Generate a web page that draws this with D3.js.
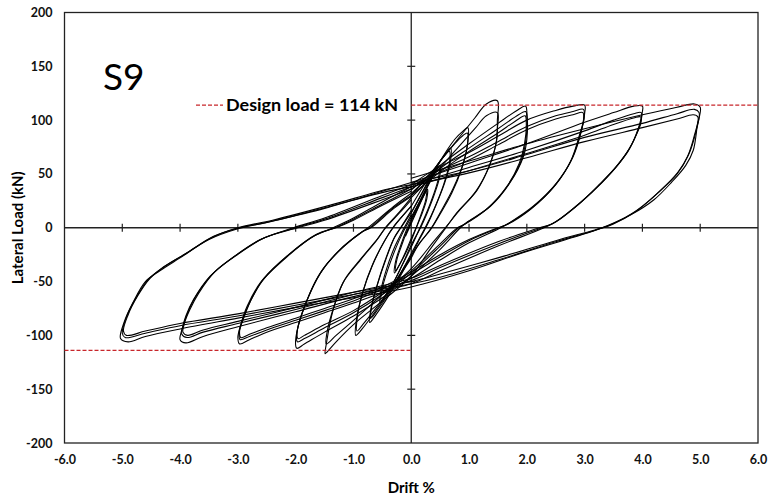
<!DOCTYPE html>
<html>
<head>
<meta charset="utf-8">
<script src="https://cdn.jsdelivr.net/npm/d3@7"></script>
<style>
  body { margin: 0; background: #fff; }
  svg { display: block; }
  .tick text { font-family: Lato, "Open Sans", sans-serif; font-weight: bold; font-size: 12.5px; fill: #111; }
</style>
</head>
<body>
<div id="chart"></div>
<script>
// tick values
const xTicks = [-6, -5, -4, -3, -2, -1, 0, 1, 2, 3, 4, 5, 6]
const yTicks = [-200, -150, -100, -50, 0, 50, 100, 150, 200]
const designLoad = 114

// hysteresis loops, [drift %, load kN]
const loop025a = [[-0.1,-8],[0,4],[0.1,16],[0.2,28],[0.26,34],[0.25,26],[0.18,14],[0.1,2],[0,-12],[-0.1,-24],[-0.2,-34],[-0.27,-40],[-0.25,-30],[-0.17,-17],[-0.08,-4],[0,6]]
const loop025b = [[0,6],[0.12,19],[0.22,30],[0.28,36],[0.27,27],[0.2,15],[0.11,3],[0,-10],[-0.12,-25],[-0.22,-36],[-0.29,-42],[-0.27,-31],[-0.18,-16],[-0.09,-3],[0,8]]
const loop05a = [[0,8],[0.15,24],[0.3,40],[0.42,52],[0.48,56],[0.47,46],[0.38,30],[0.25,12],[0.15,0],[0,-18],[-0.15,-34],[-0.3,-50],[-0.45,-63],[-0.52,-68],[-0.5,-56],[-0.4,-38],[-0.26,-18],[-0.15,-5],[0,10]]
const loop05b = [[0,10],[0.16,26],[0.32,43],[0.44,54],[0.5,58],[0.49,47],[0.4,31],[0.27,13],[0.17,1],[0,-16],[-0.16,-35],[-0.32,-52],[-0.46,-64],[-0.54,-70],[-0.52,-57],[-0.42,-37],[-0.28,-17],[-0.16,-4],[0,12]]
const loop075a = [[0,8],[0.2,30],[0.4,52],[0.58,68],[0.68,74],[0.68,62],[0.58,42],[0.42,20],[0.28,3],[0.15,-10],[0,-26],[-0.2,-46],[-0.4,-64],[-0.6,-80],[-0.72,-88],[-0.7,-76],[-0.6,-55],[-0.45,-30],[-0.3,-10],[-0.18,0],[0,14]]
const loop075b = [[0,14],[0.2,34],[0.4,54],[0.56,66],[0.66,71],[0.66,60],[0.56,40],[0.4,18],[0.26,2],[0.12,-12],[0,-24],[-0.2,-44],[-0.4,-62],[-0.58,-76],[-0.7,-84],[-0.68,-72],[-0.58,-52],[-0.43,-28],[-0.28,-8],[-0.16,2],[0,16]]
const loop1a = [[0,14],[0.25,38],[0.5,62],[0.75,82],[0.9,90],[0.98,93],[0.98,80],[0.9,60],[0.72,36],[0.5,14],[0.35,0],[0.15,-14],[0,-26],[-0.3,-52],[-0.6,-76],[-0.85,-94],[-0.96,-100],[-0.95,-86],[-0.85,-62],[-0.68,-36],[-0.48,-14],[-0.32,0],[-0.1,14],[0,20]]
const loop1b = [[0,20],[0.25,42],[0.5,62],[0.75,78],[0.9,86],[0.97,88],[0.97,76],[0.88,56],[0.7,32],[0.48,11],[0.33,-2],[0.12,-16],[0,-28],[-0.3,-52],[-0.6,-74],[-0.84,-90],[-0.94,-96],[-0.93,-82],[-0.83,-58],[-0.66,-33],[-0.46,-12],[-0.3,1],[0,20]]
const loop15a = [[0,30],[0.4,55],[0.8,82],[1.1,102],[1.3,115],[1.49,118],[1.49,100],[1.48,82],[1.37,60],[1.14,35],[0.79,14],[0.6,0],[0.3,-22],[0,-45],[-0.5,-68],[-1.0,-90],[-1.3,-106],[-1.45,-115],[-1.49,-117],[-1.47,-108],[-1.35,-76],[-1.18,-51],[-0.88,-30],[-0.59,-11],[-0.45,0],[-0.2,15],[0,28]]
const loop15b = [[0,28],[0.4,50],[0.8,74],[1.1,92],[1.3,104],[1.49,107],[1.49,92],[1.46,76],[1.34,56],[1.12,34],[0.8,14],[0.62,2],[0.4,-12],[0,-38],[-0.5,-62],[-1.0,-86],[-1.3,-100],[-1.47,-108],[-1.46,-98],[-1.33,-72],[-1.15,-48],[-0.86,-28],[-0.58,-10],[-0.44,0],[-0.2,14],[0,26]]
const loop2a = [[0,35],[0.5,58],[1.0,78],[1.5,97],[1.8,108],[1.98,113],[2.0,108],[2.0,82],[1.94,66],[1.71,42],[1.37,20],[0.96,5],[0.85,0],[0.5,-20],[0,-45],[-0.5,-65],[-1.0,-82],[-1.5,-97],[-1.85,-108],[-1.98,-112],[-2.0,-104],[-1.8,-67],[-1.57,-42],[-1.23,-20],[-0.88,-5],[-0.75,0],[-0.3,20],[0,32]]
const loop2b = [[0,32],[0.5,55],[1.0,74],[1.5,92],[1.8,103],[1.98,108],[2.0,102],[1.98,80],[1.9,62],[1.68,40],[1.34,19],[0.94,4],[0.82,0],[0.5,-17],[0,-42],[-0.5,-62],[-1.0,-79],[-1.5,-93],[-1.85,-103],[-1.97,-106],[-1.98,-98],[-1.78,-64],[-1.55,-40],[-1.2,-19],[-0.85,-4],[-0.72,0],[-0.3,19],[0,30]]
const loop2c = [[0,30],[0.5,52],[1.0,71],[1.5,88],[1.8,99],[1.97,104],[1.99,98],[1.96,78],[1.87,60],[1.65,38],[1.3,17],[0.92,3],[0.8,0],[0.5,-15],[0,-40],[-0.5,-60],[-1.0,-77],[-1.5,-90],[-1.85,-100],[-1.96,-103],[-1.97,-95],[-1.76,-62],[-1.52,-38],[-1.18,-18],[-0.83,-3],[-0.7,0],[-0.3,18],[0,29]]
const loop3a = [[0,40],[0.4,54],[1.0,70],[1.5,85],[2.0,100],[2.5,109],[2.8,113],[3.0,114],[3.0,106],[2.95,91],[2.8,66],[2.52,42],[2.11,20],[1.71,5],[1.55,0],[1.0,-14],[0.5,-30],[0,-47],[-0.5,-60],[-1.0,-70],[-1.5,-79],[-2.0,-88],[-2.5,-97],[-2.8,-104],[-2.97,-108],[-3.0,-102],[-2.95,-90],[-2.84,-73],[-2.61,-51],[-2.15,-27],[-1.69,-8],[-1.35,0],[-1.0,9],[-0.5,24],[0,38]]
const loop3b = [[0,38],[0.4,51],[1.0,66],[1.5,80],[2.0,94],[2.5,104],[2.8,108],[2.98,110],[2.99,102],[2.93,88],[2.78,64],[2.5,40],[2.08,18],[1.68,4],[1.52,0],[1.0,-12],[0.5,-27],[0,-43],[-0.5,-57],[-1.0,-68],[-1.5,-77],[-2.0,-86],[-2.5,-95],[-2.8,-101],[-2.96,-104],[-2.98,-98],[-2.92,-86],[-2.8,-70],[-2.57,-49],[-2.12,-25],[-1.66,-7],[-1.32,0],[-1.0,8],[-0.5,22],[0,36]]
const loop3c = [[0,36],[0.4,49],[1,63],[1.5,77],[2,91],[2.5,101],[2.8,105],[2.97,107],[2.98,100],[2.91,86],[2.76,62],[2.48,39],[2.06,17],[1.66,3],[1.5,0],[1,-11],[0.5,-25],[0,-41],[-0.5,-55],[-1,-66],[-1.5,-75],[-2,-84],[-2.5,-93],[-2.8,-99],[-2.95,-102],[-2.97,-96],[-2.9,-84],[-2.78,-68],[-2.55,-47],[-2.1,-24],[-1.64,-6],[-1.3,0],[-1,7],[-0.5,21],[0,34]]
const loop4a = [[0,42],[1,60],[2,78],[3,98],[3.5,107],[3.85,113],[4.0,113],[4.0,108],[3.95,96],[3.82,78],[3.6,60],[3.3,42],[2.92,23],[2.52,6],[2.3,0],[1.5,-17],[0.5,-40],[0,-52],[-1,-64],[-2,-78],[-3,-92],[-3.6,-101],[-3.9,-107],[-4.0,-104],[-3.97,-95],[-3.9,-82],[-3.77,-67],[-3.48,-45],[-3.07,-27],[-2.61,-11],[-2.04,0],[-1.5,9],[-0.5,30],[0,40]]
const loop4b = [[0,40],[1,56],[2,72],[3,90],[3.5,100],[3.85,106],[3.98,107],[3.98,100],[3.92,90],[3.78,74],[3.55,57],[3.25,40],[2.88,21],[2.48,5],[2.26,0],[1.5,-15],[0.5,-37],[0,-49],[-1,-62],[-2,-76],[-3,-89],[-3.6,-97],[-3.88,-102],[-3.97,-99],[-3.94,-90],[-3.86,-78],[-3.72,-63],[-3.44,-43],[-3.02,-25],[-2.57,-10],[-2.0,0],[-1.5,8],[-0.5,28],[0,38]]
const loop4c = [[0,38],[1,53],[2,69],[3,86],[3.5,96],[3.85,102],[3.97,103],[3.97,97],[3.9,87],[3.75,71],[3.52,55],[3.22,38],[2.85,20],[2.45,4],[2.22,0],[1.5,-13],[0.5,-35],[0,-47],[-1,-60],[-2,-74],[-3,-87],[-3.6,-95],[-3.87,-100],[-3.95,-97],[-3.92,-88],[-3.83,-76],[-3.68,-61],[-3.4,-41],[-2.98,-24],[-2.53,-9],[-1.96,0],[-1.5,7],[-0.5,26],[0,36]]
const loop5a = [[0,46],[1,62],[2,78],[3,92],[4,105],[4.6,112],[4.9,115],[5.0,112],[4.95,95],[4.88,72],[4.75,58],[4.5,42],[4.2,26],[3.8,12],[3.4,2],[3.1,-4],[2.0,-22],[1.0,-40],[0,-55],[-1,-65],[-2,-74],[-3,-84],[-4,-94],[-4.6,-101],[-4.9,-106],[-5.03,-103],[-4.97,-88],[-4.82,-70],[-4.6,-50],[-4.35,-40],[-4.0,-28],[-3.5,-11],[-3.0,-1],[-2.5,5],[-1.5,18],[-0.5,34],[0,42]]
const loop5b = [[0,42],[1,53],[2,68],[3,84],[4,97],[4.6,106],[4.9,110],[4.98,107],[4.92,88],[4.8,68],[4.62,52],[4.3,34],[3.9,16],[3.5,4],[3.2,-2],[2.5,-13],[1.5,-30],[0.5,-46],[0,-52],[-1,-62],[-2,-72],[-3,-82],[-4,-91],[-4.6,-98],[-4.95,-102],[-5.0,-98],[-4.92,-82],[-4.75,-64],[-4.55,-48],[-4.3,-37],[-3.9,-24],[-3.45,-9],[-3.0,0],[-2.4,7],[-1.4,21],[-0.4,36],[0,40]]
const loop5c = [[0,40],[1,51],[2,65],[3,80],[4,93],[4.6,101],[4.88,105],[4.96,103],[4.9,86],[4.78,66],[4.6,50],[4.28,33],[3.88,15],[3.48,3],[3.18,-2],[2.5,-12],[1.5,-28],[0.5,-43],[0,-50],[-1,-60],[-2,-70],[-3,-80],[-4,-89],[-4.6,-96],[-4.93,-100],[-4.98,-96],[-4.9,-81],[-4.73,-63],[-4.52,-47],[-4.27,-36],[-3.87,-23],[-3.42,-8],[-2.97,0],[-2.4,6],[-1.4,20],[-0.4,34],[0,38]]

const loops = [loop025a, loop025b, loop05a, loop05b, loop075a, loop075b, loop1a, loop1b,
    loop15a, loop15b, loop2a, loop2b, loop2c, loop3a, loop3b, loop3c,
    loop4a, loop4b, loop4c, loop5a, loop5b, loop5c]

const W = 769, H = 501
const margin = { top: 12.5, right: 11, bottom: 58, left: 64.5 }

const svg = d3.select("#chart").append("svg")
    .attr("width", W)
    .attr("height", H)

const x = d3.scaleLinear().domain([-6, 6]).range([margin.left, W - margin.right])
const y = d3.scaleLinear().domain([-200, 200]).range([H - margin.bottom, margin.top])

// frame
svg.append("rect")
    .attr("x", x(-6)).attr("y", y(200))
    .attr("width", x(6) - x(-6)).attr("height", y(-200) - y(200))
    .attr("fill", "none").attr("stroke", "#222").attr("stroke-width", 1.3)

// tick labels at the frame
svg.append("g")
    .attr("transform", "translate(0," + y(-200) + ")")
    .call(d3.axisBottom(x).tickValues(xTicks).tickSize(0).tickPadding(12).tickFormat(d => d.toFixed(1)))
    .call(g => g.select(".domain").remove())

svg.append("g")
    .attr("transform", "translate(" + x(-6) + ",0)")
    .call(d3.axisLeft(y).tickValues(yTicks).tickSize(0).tickPadding(12).tickFormat(d => String(d)))
    .call(g => g.select(".domain").remove())

// zero axes with crossing ticks
svg.append("line")
    .attr("x1", x(-6)).attr("x2", x(6)).attr("y1", y(0)).attr("y2", y(0))
    .attr("stroke", "#222").attr("stroke-width", 1.3)
svg.append("line")
    .attr("x1", x(0)).attr("x2", x(0)).attr("y1", y(-200)).attr("y2", y(200))
    .attr("stroke", "#222").attr("stroke-width", 1.3)

svg.append("g").selectAll("line")
    .data(xTicks.filter(d => d > -6 && d < 6 && d !== 0))
    .enter().append("line")
    .attr("x1", d => x(d)).attr("x2", d => x(d))
    .attr("y1", y(0) - 4).attr("y2", y(0) + 4)
    .attr("stroke", "#222").attr("stroke-width", 1.2)

svg.append("g").selectAll("line")
    .data(yTicks.filter(d => d > -200 && d < 200 && d !== 0))
    .enter().append("line")
    .attr("x1", x(0) - 4).attr("x2", x(0) + 4)
    .attr("y1", d => y(d)).attr("y2", d => y(d))
    .attr("stroke", "#222").attr("stroke-width", 1.2)

// hysteresis curves
const line = d3.line()
    .x(d => x(d[0]))
    .y(d => y(d[1]))
    .curve(d3.curveCatmullRom.alpha(0.5))

svg.append("g").selectAll("path")
    .data(loops)
    .enter().append("path")
    .attr("d", line)
    .attr("fill", "none")
    .attr("stroke", "#000")
    .attr("stroke-width", 1.1)

// design load lines
const red = "#c8262b"
svg.append("line")
    .attr("x1", x(0)).attr("x2", x(6)).attr("y1", y(designLoad)).attr("y2", y(designLoad))
    .attr("stroke", red).attr("stroke-width", 1.3).attr("stroke-dasharray", "4,2")
svg.append("line")
    .attr("x1", x(-6)).attr("x2", x(0)).attr("y1", y(-designLoad)).attr("y2", y(-designLoad))
    .attr("stroke", red).attr("stroke-width", 1.3).attr("stroke-dasharray", "4,2")
svg.append("line")
    .attr("x1", 196).attr("x2", 223).attr("y1", y(designLoad)).attr("y2", y(designLoad))
    .attr("stroke", red).attr("stroke-width", 1.3).attr("stroke-dasharray", "4,2")

svg.append("text")
    .attr("x", 226).attr("y", y(designLoad) + 5.5)
    .attr("textLength", 172)
    .attr("lengthAdjust", "spacingAndGlyphs")
    .style("font", "bold 17px Lato, 'Open Sans', sans-serif")
    .text("Design load = " + designLoad + " kN")

svg.append("text")
    .attr("x", 103).attr("y", 90)
    .style("font", "37px Lato, 'Open Sans', sans-serif")
    .text("S9")

// axis titles
svg.append("text")
    .attr("text-anchor", "middle")
    .attr("transform", "translate(" + x(0) + "," + 493 + ")")
    .style("font", "bold 15px Lato, 'Open Sans', sans-serif")
    .text("Drift %")

svg.append("text")
    .attr("text-anchor", "middle")
    .attr("transform", "translate(23," + y(0) + ")rotate(-90)")
    .style("font", "bold 15px Lato, 'Open Sans', sans-serif")
    .text("Lateral Load (kN)")
</script>
</body>
</html>
